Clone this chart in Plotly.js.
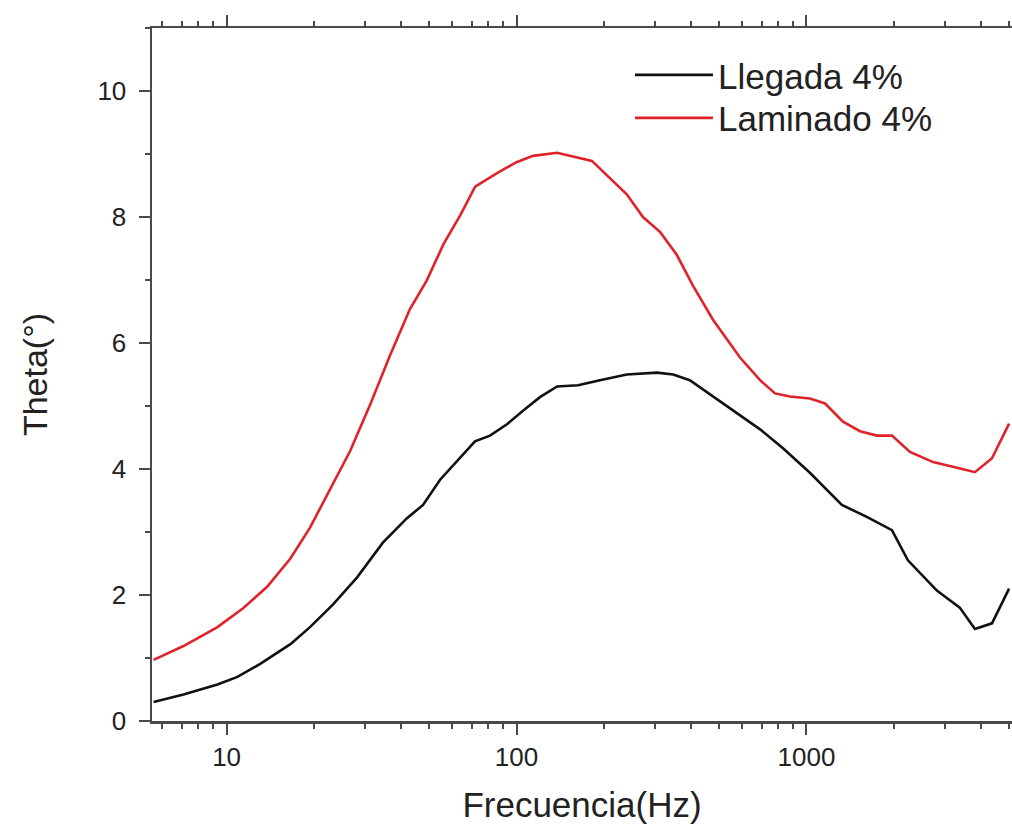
<!DOCTYPE html>
<html>
<head>
<meta charset="utf-8">
<script src="https://cdn.plot.ly/plotly-3.0.1.min.js"></script>
<style>
  html, body { margin: 0; padding: 0; background: #fff; }
  #chart { width: 1012px; height: 835px; }
</style>
</head>
<body>
<div id="chart"></div>
<script>
// Frequency (Hz) and Theta (deg)
const freqLlegada = [5.6, 7.1, 9.3, 10.9, 13.1, 16.6, 19.4, 23.3, 28.2, 34.6, 41.9, 47.6, 54.5, 62.3, 71.9, 81, 92.7, 105, 120.5, 138, 163, 194, 240, 305, 347, 396, 491, 590, 692, 830, 1028, 1325, 1615, 1972, 2239, 2818, 3380, 3812, 4365, 5000];
const thetaLlegada = [0.30, 0.42, 0.58, 0.70, 0.91, 1.22, 1.49, 1.85, 2.28, 2.83, 3.22, 3.43, 3.83, 4.13, 4.44, 4.53, 4.71, 4.92, 5.14, 5.31, 5.33, 5.41, 5.50, 5.53, 5.50, 5.41, 5.11, 4.84, 4.63, 4.33, 3.94, 3.43, 3.24, 3.03, 2.55, 2.07, 1.80, 1.46, 1.55, 2.10];

const freqLaminado = [5.6, 7.1, 9.3, 11.4, 13.8, 16.6, 19.4, 22.7, 26.7, 31.2, 36.6, 42.9, 49, 56, 64, 72, 86, 100, 114, 138, 163, 182, 240, 273, 313, 357, 406, 476, 590, 692, 779, 878, 1028, 1159, 1337, 1530, 1750, 1972, 2276, 2735, 3306, 3812, 4365, 5000];
const thetaLaminado = [0.97, 1.19, 1.49, 1.79, 2.13, 2.58, 3.07, 3.68, 4.29, 5.01, 5.80, 6.54, 6.99, 7.57, 8.03, 8.48, 8.70, 8.87, 8.97, 9.02, 8.94, 8.89, 8.36, 8.00, 7.76, 7.40, 6.91, 6.37, 5.77, 5.41, 5.20, 5.15, 5.12, 5.04, 4.75, 4.60, 4.53, 4.53, 4.27, 4.11, 4.02, 3.95, 4.17, 4.72];

const seriesNames = ["Llegada 4%", "Laminado 4%"];
const xTickVals = [10, 100, 1000];
const xTickText = ["10", "100", "1000"];
const xMinorVals = [6, 7, 8, 9, 20, 30, 40, 50, 60, 70, 80, 90, 200, 300, 400, 500, 600, 700, 800, 900, 2000, 3000, 4000, 5000];
const yTickVals = [0, 2, 4, 6, 8, 10];

const FONT = "Liberation Sans, Arial, Helvetica, sans-serif";
const AXCOL = "#4a4a4a";
const TXT = "#222222";

const traces = [
  { x: freqLlegada, y: thetaLlegada, name: seriesNames[0], type: "scatter", mode: "lines",
    legend: "legend", line: { color: "#111111", width: 2.6 } },
  { x: freqLaminado, y: thetaLaminado, name: seriesNames[1], type: "scatter", mode: "lines",
    legend: "legend2", line: { color: "#e0232b", width: 2.6 } }
];

const legendStyle = (yPos) => ({
  x: 0.5558, y: yPos, xanchor: "left", yanchor: "middle",
  bgcolor: "rgba(0,0,0,0)", borderwidth: 0,
  font: { family: FONT, size: 35, color: TXT },
  itemwidth: 78
});

const layout = {
  width: 1012, height: 835,
  paper_bgcolor: "#ffffff", plot_bgcolor: "#ffffff",
  margin: { l: 152, r: 0, t: 28, b: 114 },
  font: { family: FONT, color: TXT },
  showlegend: true,
  legend: legendStyle(0.932),
  legend2: legendStyle(0.870),
  xaxis: {
    type: "log",
    range: [Math.log10(5.53), Math.log10(5117)],
    tickmode: "array", tickvals: xTickVals, ticktext: xTickText,
    ticks: "outside", ticklen: 11, tickwidth: 2, tickcolor: AXCOL,
    minor: { tickmode: "array", tickvals: xMinorVals, ticks: "outside", ticklen: 5, tickwidth: 2, tickcolor: AXCOL, showgrid: false },
    showline: true, linecolor: AXCOL, linewidth: 2.5, mirror: "ticks",
    showgrid: false, zeroline: false,
    tickfont: { family: FONT, size: 26, color: TXT },
    title: { text: "Frecuencia(Hz)", font: { family: FONT, size: 35, color: TXT }, standoff: 22 }
  },
  yaxis: {
    range: [0, 11],
    tickmode: "array", tickvals: yTickVals,
    ticks: "outside", ticklen: 11, tickwidth: 2, tickcolor: AXCOL,
    ticklabelstandoff: 7,
    minor: { dtick: 1, ticks: "outside", ticklen: 5, tickwidth: 2, tickcolor: AXCOL, showgrid: false },
    showline: true, linecolor: AXCOL, linewidth: 2.5, mirror: false,
    showgrid: false, zeroline: false,
    tickfont: { family: FONT, size: 26, color: TXT },
    title: { text: "Theta(°)", font: { family: FONT, size: 34, color: TXT }, standoff: 40 }
  }
};

Plotly.newPlot("chart", traces, layout, { displayModeBar: false, staticPlot: true });
</script>
</body>
</html>
